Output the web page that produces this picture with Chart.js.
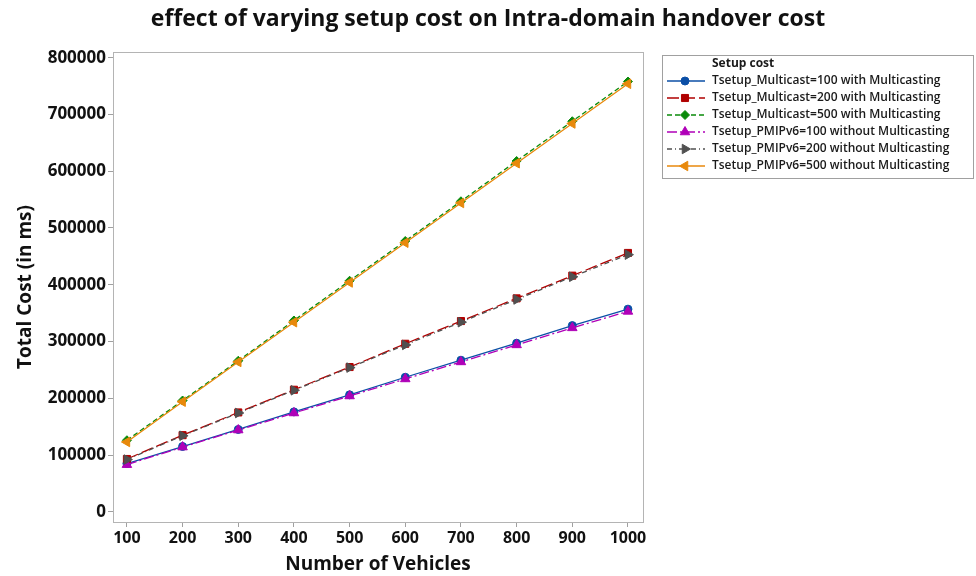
<!DOCTYPE html>
<html>
<head>
<meta charset="utf-8">
<script src="https://cdn.jsdelivr.net/npm/chart.js@4.4.1/dist/chart.umd.min.js"></script>
<style>
    html, body { margin: 0; padding: 0; background: #fff; }
    #wrap { width: 976px; height: 576px; }
</style>
</head>
<body>
<div id="wrap"><canvas id="c" width="976" height="576"></canvas></div>
<script>
const vehicles = [100, 200, 300, 400, 500, 600, 700, 800, 900, 1000];
const yTicks = [0, 100000, 200000, 300000, 400000, 500000, 600000, 700000, 800000];

const multicast100 = [85000, 115000, 145000, 176000, 206000, 237000, 267000, 297000, 328000, 357000];
const multicast200 = [93000, 135000, 175000, 215000, 255000, 296000, 336000, 376000, 416000, 456000];
const multicast500 = [126000, 196000, 266000, 337000, 407000, 477000, 547000, 618000, 688000, 758000];
const pmip100 = [83000, 114000, 144000, 174000, 204000, 234000, 264000, 294000, 324000, 353000];
const pmip200 = [92000, 134000, 174000, 214000, 254000, 294000, 334000, 374000, 414000, 453000];
const pmip500 = [123000, 194000, 264000, 334000, 404000, 474000, 544000, 614000, 684000, 754000];

const titleText = 'effect of varying setup cost on Intra-domain handover cost';
const seriesNames = [
    'Tsetup_Multicast=100 with Multicasting',
    'Tsetup_Multicast=200 with Multicasting',
    'Tsetup_Multicast=500 with Multicasting',
    'Tsetup_PMIPv6=100 without Multicasting',
    'Tsetup_PMIPv6=200 without Multicasting',
    'Tsetup_PMIPv6=500 without Multicasting'
];

const FONT = '"Open Sans", sans-serif';

function pts(arr) {
    return arr.map(function (v, i) { return { x: vehicles[i], y: v }; });
}

function ds(idx, values, color, style, rot, dash, radius) {
    return {
        label: seriesNames[idx],
        data: pts(values),
        order: 10 - idx, // later series drawn on top
        borderColor: color,
        backgroundColor: color,
        borderWidth: 1.3,
        borderDash: dash,
        pointStyle: style,
        rotation: rot,
        pointRadius: radius,
        pointBorderWidth: 1,
        tension: 0
    };
}

// title, frame and legend drawn straight onto the canvas
const framePlugin = {
    id: 'frame',
    beforeDatasetsDraw: function (chart) {
        const a = chart.chartArea, ctx = chart.ctx;
        ctx.save();
        ctx.strokeStyle = '#b4b4b4';
        ctx.lineWidth = 1;
        ctx.strokeRect(a.left + 0.5, a.top + 0.5, a.right - a.left, a.bottom - a.top);
        ctx.restore();
    },
    afterDraw: function (chart) {
        const ctx = chart.ctx;
        ctx.save();
        ctx.fillStyle = '#111';
        ctx.font = 'bold 23px ' + FONT;
        ctx.textAlign = 'center';
        ctx.textBaseline = 'middle';
        ctx.fillText(titleText, 488, 19);

        const bx = 662, by = 55, bw = 311, bh = 123;
        ctx.strokeStyle = '#a0a0a0';
        ctx.lineWidth = 1;
        ctx.strokeRect(bx + 0.5, by + 0.5, bw, bh);
        ctx.fillStyle = '#1a1a1a';
        ctx.textAlign = 'left';
        ctx.font = 'bold 12px ' + FONT;
        ctx.fillText('Setup cost', 712, 64);
        chart.data.datasets.forEach(function (d, i) {
            const y = 81 + i * 17;
            ctx.save();
            ctx.strokeStyle = d.borderColor;
            ctx.lineWidth = 1.3;
            ctx.setLineDash(d.borderDash || []);
            ctx.beginPath();
            ctx.moveTo(667, y);
            ctx.lineTo(705, y);
            ctx.stroke();
            ctx.restore();
            ctx.fillStyle = d.backgroundColor;
            ctx.strokeStyle = d.borderColor;
            ctx.lineWidth = 1;
            Chart.helpers.drawPoint(ctx, {
                pointStyle: d.pointStyle, rotation: d.rotation,
                radius: d.pointRadius, borderWidth: 1
            }, 685, y);
            ctx.fillStyle = '#1a1a1a';
            ctx.textAlign = 'left';
            ctx.textBaseline = 'middle';
            ctx.font = '600 12px ' + FONT;
            ctx.fillText(d.label, 712, y);
        });
        ctx.restore();
    }
};

new Chart(document.getElementById('c'), {
    type: 'line',
    data: {
        datasets: [
            ds(0, multicast100, '#0b4fa6', 'circle', 0, [], 4),
            ds(1, multicast200, '#b00000', 'rect', 0, [12, 4], 5),
            ds(2, multicast500, '#0a8a0a', 'rectRot', 0, [5, 3], 4.5),
            ds(3, pmip100, '#b000b8', 'triangle', 0, [10, 3, 2, 3], 5.5),
            ds(4, pmip200, '#505050', 'triangle', 90, [5, 3, 1, 3], 5.5),
            ds(5, pmip500, '#e8890c', 'triangle', -90, [], 5.5)
        ]
    },
    options: {
        responsive: false,
        animation: false,
        layout: { padding: { left: 14, right: 333, top: 52, bottom: 0 } },
        plugins: {
            legend: { display: false },
            tooltip: { enabled: false },
            title: { display: false }
        },
        scales: {
            x: {
                type: 'linear',
                min: 75,
                max: 1027,
                afterBuildTicks: function (s) { s.ticks = vehicles.map(function (v) { return { value: v }; }); },
                afterFit: function (s) { s.height = 54; },
                grid: { drawOnChartArea: false, tickLength: 5, color: '#a0a0a0' },
                border: { display: false },
                ticks: {
                    color: '#111', padding: 2, maxRotation: 0,
                    font: { family: FONT, size: 16, weight: 'bold' },
                    callback: function (v) { return String(v); }
                },
                title: {
                    display: true, text: 'Number of Vehicles', color: '#111', padding: 0,
                    font: { family: FONT, size: 19, weight: 'bold' }
                }
            },
            y: {
                min: -18000,
                max: 810000,
                afterBuildTicks: function (s) { s.ticks = yTicks.map(function (v) { return { value: v }; }); },
                afterFit: function (s) { s.width = 99; },
                grid: { drawOnChartArea: false, tickLength: 5, color: '#a0a0a0' },
                border: { display: false },
                ticks: {
                    color: '#111', padding: 2,
                    font: { family: FONT, size: 17, weight: 'bold' },
                    callback: function (v) { return String(v); }
                },
                title: {
                    display: true, text: 'Total Cost (in ms)', color: '#111', padding: 0,
                    font: { family: FONT, size: 19, weight: 'bold' }
                }
            }
        }
    },
    plugins: [framePlugin]
});
</script>
</body>
</html>
